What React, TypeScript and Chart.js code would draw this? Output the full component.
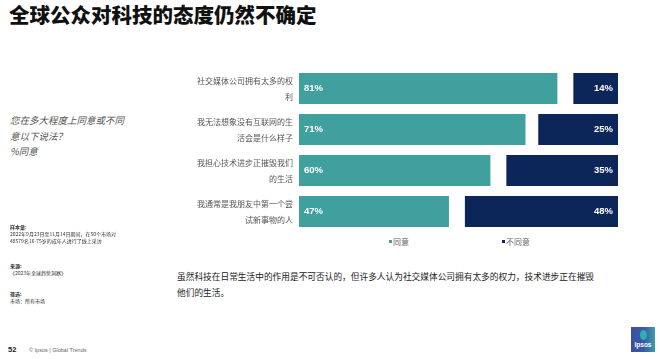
import React, { useEffect, useRef } from "react";
import { Chart, registerables } from "chart.js";

Chart.register(...registerables);

const categories: string[][] = [
  ["社交媒体公司拥有太多的权", "利"],
  ["我无法想象没有互联网的生", "活会是什么样子"],
  ["我担心技术进步正摧毁我们", "的生活"],
  ["我通常是我朋友中第一个尝", "试新事物的人"],
];
const agree = [81, 71, 60, 47];
const disagree = [14, 25, 35, 48];
const seriesNames = ["同意", "不同意"];

const TEAL = "#3fa09e";
const NAVY = "#0d2659";
const CJK = '"Noto Sans CJK SC", "Liberation Sans", sans-serif';

const labelPlugin = {
  id: "barLabels",
  afterDatasetsDraw(chart: any) {
    const ctx = chart.ctx;
    ctx.save();
    ctx.fillStyle = "#ffffff";
    ctx.font = 'bold 9.5px "Liberation Sans", Arial, sans-serif';
    ctx.textBaseline = "middle";
    const m0 = chart.getDatasetMeta(0);
    m0.data.forEach((bar: any, i: number) => {
      ctx.textAlign = "left";
      ctx.fillText(agree[i] + "%", bar.base + 5, bar.y);
    });
    const m2 = chart.getDatasetMeta(2);
    m2.data.forEach((bar: any, i: number) => {
      ctx.textAlign = "right";
      ctx.fillText(disagree[i] + "%", bar.x - 5, bar.y);
    });
    ctx.restore();
  },
};

function BarChart() {
  const ref = useRef<HTMLCanvasElement>(null);
  useEffect(() => {
    if (!ref.current) return;
    const gap = agree.map((a, i) => 100 - a - disagree[i]);
    const chart = new Chart(ref.current, {
      type: "bar",
      data: {
        labels: categories as any,
        datasets: [
          { label: seriesNames[0], data: agree, backgroundColor: TEAL },
          { label: "gap", data: gap, backgroundColor: "rgba(0,0,0,0)" },
          { label: seriesNames[1], data: disagree, backgroundColor: NAVY },
        ],
      },
      options: {
        indexAxis: "y",
        animation: false,
        responsive: false,
        maintainAspectRatio: false,
        datasets: { bar: { categoryPercentage: 1, barPercentage: 0.756 } } as any,
        layout: { padding: { top: 3, bottom: 3, right: 12, left: 0 } },
        plugins: { legend: { display: false }, tooltip: { enabled: false } },
        scales: {
          x: { stacked: true, min: 0, max: 100, display: false },
          y: {
            stacked: true,
            grid: { display: false, drawTicks: false },
            border: { display: false },
            afterFit: (s: any) => {
              s.width = 149;
              s.paddingTop = 0;
              s.paddingBottom = 0;
            },
            ticks: {
              color: "#555555",
              padding: 6,
              font: { size: 8, family: CJK, lineHeight: 2 },
            },
          },
        },
      },
      plugins: [labelPlugin],
    });
    return () => chart.destroy();
  }, []);
  return (
    <canvas
      ref={ref}
      width={480}
      height={170}
      style={{ position: "absolute", left: 150, top: 65, width: 480, height: 170 }}
    />
  );
}

export default function App() {
  const small: React.CSSProperties = { position: "absolute", left: 10, fontSize: 5, lineHeight: "7px", color: "#333", fontFamily: CJK };
  return (
    <div style={{ position: "absolute", left: 0, top: 0, width: 660, height: 359, background: "#fff", overflow: "hidden", fontFamily: CJK }}>
      <div style={{ position: "absolute", left: 9, top: 1, fontSize: 20.5, fontWeight: 900, lineHeight: "26px", color: "#111", whiteSpace: "nowrap" }}>
        全球公众对科技的态度仍然不确定
      </div>
      <div style={{ position: "absolute", left: 10, top: 113, fontSize: 9.5, lineHeight: "15.5px", fontStyle: "italic", color: "#555" }}>
        您在多大程度上同意或不同<br />意以下说法？<br />%同意
      </div>
      <BarChart />
      <div style={{ position: "absolute", left: 389, top: 237, fontSize: 8, lineHeight: "10px", color: "#666", whiteSpace: "nowrap" }}>
        <span style={{ display: "inline-block", width: 3, height: 3, background: TEAL, verticalAlign: "top", marginTop: 3, marginRight: 1 }} />
        {seriesNames[0]}
      </div>
      <div style={{ position: "absolute", left: 502, top: 237, fontSize: 8, lineHeight: "10px", color: "#666", whiteSpace: "nowrap" }}>
        <span style={{ display: "inline-block", width: 3, height: 3, background: NAVY, verticalAlign: "top", marginTop: 3, marginRight: 1 }} />
        {seriesNames[1]}
      </div>
      <div style={{ ...small, top: 223 }}>
        <b>样本量:</b><br />2022年9月23日至11月14日期间，在50个市场对<br />48579名16-75岁的成年人进行了线上采访
      </div>
      <div style={{ ...small, top: 262 }}>
        <b>来源:</b><br />《2023年全球趋势洞察》
      </div>
      <div style={{ ...small, top: 290 }}>
        <b>筛选:</b><br />市场：所有市场
      </div>
      <div style={{ position: "absolute", left: 177, top: 269, fontSize: 8.7, lineHeight: "16px", color: "#222", width: 430 }}>
        虽然科技在日常生活中的作用是不可否认的，但许多人认为社交媒体公司拥有太多的权力，技术进步正在摧毁<br />他们的生活。
      </div>
      <div style={{ position: "absolute", left: 8, top: 345, fontSize: 7.5, fontWeight: 700, color: "#222", fontFamily: '"Liberation Sans", sans-serif' }}>52</div>
      <div style={{ position: "absolute", left: 29, top: 347, fontSize: 5.5, color: "#666", fontFamily: '"Liberation Sans", sans-serif', whiteSpace: "nowrap" }}>
        © Ipsos | Global Trends
      </div>
      <div style={{ position: "absolute", left: 631, top: 327, width: 24, height: 25, background: "linear-gradient(90deg, #3b4ea3 0%, #3b5aa8 55%, #3aa0a8 100%)", overflow: "hidden" }}>
        <div style={{ position: "absolute", left: 9, top: 3, width: 7, height: 10, borderRadius: "50%", background: "#2fb0ac" }} />
        <div style={{ position: "absolute", left: 0, top: 14, width: 24, textAlign: "center", fontSize: 6.5, fontWeight: 700, color: "#fff", fontFamily: '"Liberation Sans", sans-serif', lineHeight: "8px" }}>Ipsos</div>
      </div>
    </div>
  );
}
